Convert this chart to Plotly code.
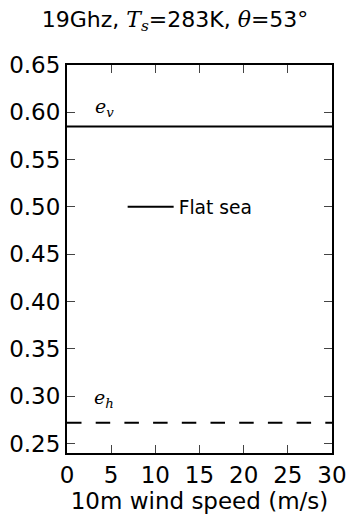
import plotly.graph_objects as go

wind_speed = [0, 30]
ev_flat = [0.585, 0.585]
eh_flat = [0.272, 0.272]
xticks = [0, 5, 10, 15, 20, 25, 30]
yticks = [0.25, 0.30, 0.35, 0.40, 0.45, 0.50, 0.55, 0.60, 0.65]

FONT = "DejaVu Sans"
SERIF = "DejaVu Serif"

fig = go.Figure()
fig.add_trace(go.Scatter(x=wind_speed, y=ev_flat, mode="lines", name="Flat sea",
                         line=dict(color="black", width=2)))
fig.add_trace(go.Scatter(x=wind_speed, y=eh_flat, mode="lines", showlegend=False,
                         line=dict(color="black", width=2, dash="14.5px,14.2px")))

fig.add_annotation(x=4.2, y=0.605, text=f"<span style='font-family:{SERIF}'><i>e<sub>v</sub></i></span>",
                   showarrow=False, font=dict(size=19, color="black"))
fig.add_annotation(x=4.2, y=0.298, text=f"<span style='font-family:{SERIF}'><i>e<sub>h</sub></i></span>",
                   showarrow=False, font=dict(size=19, color="black"))

title = (f"19Ghz, <span style='font-family:{SERIF}'><i>T<sub>s</sub></i></span>=283K, "
         f"<span style='font-family:{SERIF}'><i>θ</i></span>=53°")

fig.update_layout(
    width=350, height=515,
    margin=dict(l=67, r=18, t=65, b=62, autoexpand=False),
    paper_bgcolor="white", plot_bgcolor="white",
    font=dict(family=FONT, size=23, color="black"),
    title=dict(text=title, x=0.5, xanchor="center", y=0.963, yanchor="middle",
               font=dict(family=FONT, size=22)),
    showlegend=True,
    legend=dict(x=0.21, y=0.634, xanchor="left", yanchor="middle", bgcolor="rgba(0,0,0,0)",
                font=dict(size=18.7), itemwidth=46),
    xaxis=dict(range=[0, 30], tickvals=xticks, ticks="inside", ticklen=8, tickwidth=1,
               showline=True, linewidth=2, linecolor="black", mirror="ticks",
               showgrid=False, zeroline=False, automargin=False,
               title=dict(text="10m wind speed (m/s)", font=dict(size=23), standoff=2)),
    yaxis=dict(range=[0.24, 0.65], tickvals=yticks, tickformat=".2f", ticks="inside",
               ticklen=8, tickwidth=1, automargin=False,
               showline=True, linewidth=2, linecolor="black", mirror="ticks",
               showgrid=False, zeroline=False),
)

fig.write_html("out.html", config={"displayModeBar": False},
               post_script="document.body.style.margin='0';")
